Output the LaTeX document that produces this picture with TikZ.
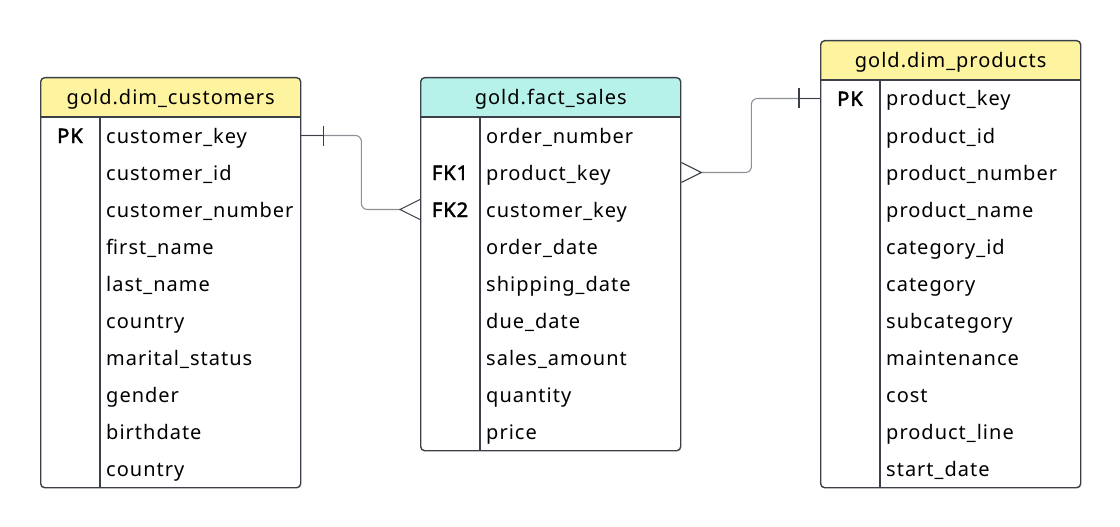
\documentclass[tikz,border=0pt]{standalone}
\usepackage{fontspec}
\setmainfont{Noto Sans}[LetterSpace=5, AutoFakeBold=2.2]
\usetikzlibrary{positioning}

\definecolor{framecol}{HTML}{3B4048}
\definecolor{linkcol}{HTML}{8C9097}
\definecolor{dimhead}{HTML}{FEF4A0}
\definecolor{facthead}{HTML}{B6F2EA}

\begin{document}
\begin{tikzpicture}[
  x=1pt, y=-1pt,
  every node/.style={font=\fontsize{20}{23}\selectfont},
  erdtable/.style={draw=framecol, line width=1.4pt, rounded corners=4pt, fill=white,
                   minimum width=260pt, inner sep=0pt, anchor=north west,
                   path picture={\fill[#1] (path picture bounding box.north west)
                     rectangle ([yshift=-40pt]path picture bounding box.north east);}},
  title/.style={anchor=base, inner sep=0pt},
  field/.style={anchor=base west, inner sep=0pt},
  keycol/.style={anchor=base, inner sep=0pt, font=\fontsize{20}{23}\selectfont\bfseries},
  rule/.style={draw=framecol, line width=1.4pt},
  rel/.style={draw=linkcol, line width=1.1pt, rounded corners=6pt},
  relend/.style={draw=framecol, line width=1.1pt}
]
\path[use as bounding box] (0,0) rectangle (1120,527);

% tables
\node[erdtable=dimhead, minimum height=410pt] (cust) at (40,77) {};
\node[erdtable=facthead, minimum height=373pt] (fact) at (420,77) {};
\node[erdtable=dimhead, minimum height=447pt] (prod) at (820,40) {};

\foreach \t in {cust,fact,prod} {
  \draw[rule] ([yshift=-40pt]\t.north west) -- ([yshift=-40pt]\t.north east);
  \draw[rule] ([shift={(60pt,-40pt)}]\t.north west) -- ([xshift=60pt]\t.south west);
}

\node[title] (cust-title) at ([yshift=-27pt]cust.north) {gold.dim\_customers};
\node[title] (fact-title) at ([yshift=-27pt]fact.north) {gold.fact\_sales};
\node[title] (prod-title) at ([yshift=-27pt]prod.north) {gold.dim\_products};

% fields
\foreach \f [count=\i] in {customer\_key, customer\_id, customer\_number, first\_name,
    last\_name, country, marital\_status, gender, birthdate, country}
  \node[field] (cust-\i) at ([shift={(66pt,{-29pt-37pt*\i})}]cust.north west) {\f};
\foreach \f [count=\i] in {order\_number, product\_key, customer\_key, order\_date,
    shipping\_date, due\_date, sales\_amount, quantity, price}
  \node[field] (fact-\i) at ([shift={(66pt,{-29pt-37pt*\i})}]fact.north west) {\f};
\foreach \f [count=\i] in {product\_key, product\_id, product\_number, product\_name,
    category\_id, category, subcategory, maintenance, cost, product\_line, start\_date}
  \node[field] (prod-\i) at ([shift={(66pt,{-29pt-37pt*\i})}]prod.north west) {\f};

% keys
\node[keycol] (cust-pk) at ([shift={(30pt,-66pt)}]cust.north west) {PK};
\node[keycol] (fact-fk1) at ([shift={(30pt,-103pt)}]fact.north west) {FK1};
\node[keycol] (fact-fk2) at ([shift={(30pt,-140pt)}]fact.north west) {FK2};
\node[keycol] (prod-pk) at ([shift={(30pt,-66pt)}]prod.north west) {PK};

% relationships
\coordinate (cust-link) at ([yshift=-58.5pt]cust.north east);
\coordinate (fact-link2) at ([yshift=-95.5pt]fact.north east);
\coordinate (fact-link3) at ([yshift=-132.5pt]fact.north west);
\coordinate (prod-link) at ([yshift=-58.5pt]prod.north west);

\draw[rel] (cust-link) -- ++(60,0) |- ([xshift=-20pt]fact-link3);
\draw[relend] (cust-link) -- ++(22,0) ++(0,-10) -- ++(0,20);
\draw[relend] ([yshift=10pt]fact-link3) -- ([xshift=-20pt]fact-link3)
  -- ([yshift=-10pt]fact-link3);

\draw[rel] ([xshift=20pt]fact-link2) -- ++(50,0) |- (prod-link);
\draw[relend] (prod-link) -- ++(-21,0) ++(0,-10) -- ++(0,20);
\draw[relend] ([yshift=10pt]fact-link2) -- ([xshift=20pt]fact-link2)
  -- ([yshift=-10pt]fact-link2);

\end{tikzpicture}
\end{document}
